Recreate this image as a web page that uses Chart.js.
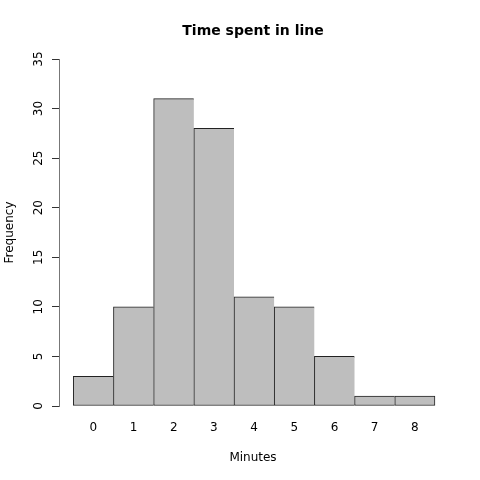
<!DOCTYPE html>
<html>
<head>
<meta charset="utf-8">
<script src="https://cdn.jsdelivr.net/npm/chart.js@4"></script>
<style>
html,body{margin:0;padding:0;background:#fff;}
#wrap{width:480px;height:480px;}
</style>
</head>
<body>
<div id="wrap"><canvas id="c" width="480" height="480"></canvas></div>
<script>
const categories = [0, 1, 2, 3, 4, 5, 6, 7, 8];
const counts = [3, 10, 31, 28, 11, 10, 5, 1, 1];
const yTicks = [0, 5, 10, 15, 20, 25, 30, 35];

const FONT = "'DejaVu Sans', sans-serif";
const last = categories.length - 1;

new Chart(document.getElementById('c'), {
  type: 'bar',
  data: {
    datasets: [{
      data: categories.map((c, i) => ({x: c, y: counts[i]})),
      backgroundColor: '#bebebe',
      borderColor: '#222',
      borderWidth: ctx => ({left: 1, top: 1, bottom: 1, right: ctx.dataIndex === last ? 1 : 0}),
      borderSkipped: false,
      barPercentage: 1,
      categoryPercentage: 1
    }]
  },
  options: {
    responsive: false,
    animation: false,
    layout: {padding: {left: 0, right: 33, top: 0, bottom: 0}},
    plugins: {
      legend: {display: false},
      tooltip: {enabled: false},
      title: {
        display: true,
        fullSize: false,
        text: 'Time spent in line',
        color: '#000',
        font: {family: FONT, size: 14, weight: 'bold'},
        padding: {top: 22.6, bottom: 19.6}
      }
    },
    scales: {
      x: {
        type: 'linear',
        offset: false,
        min: -0.855,
        max: 8.80,
        afterBuildTicks: s => { s.ticks = categories.map(v => ({value: v})); },
        afterFit: s => { s.height = 74; },
        grid: {display: false, drawTicks: false, offset: false},
        border: {display: false},
        ticks: {
          color: '#000',
          padding: 15,
          font: {family: FONT, size: 12},
          maxRotation: 0,
          autoSkip: false
        },
        title: {
          display: true,
          text: 'Minutes',
          color: '#000',
          font: {family: FONT, size: 12},
          padding: {top: 0, bottom: 14.8}
        }
      },
      y: {
        min: 0,
        max: 35,
        afterBuildTicks: s => { s.ticks = yTicks.map(v => ({value: v})); },
        afterFit: s => { s.width = 59; },
        grid: {drawOnChartArea: false, drawTicks: true, tickLength: 7, color: '#333'},
        border: {display: true, color: '#777'},
        ticks: {
          color: '#000',
          padding: 5.4,
          crossAlign: 'center',
          minRotation: 90,
          maxRotation: 90,
          font: {family: FONT, size: 12}
        },
        title: {
          display: true,
          text: 'Frequency',
          color: '#000',
          font: {family: FONT, size: 12},
          padding: {top: 2.8, bottom: 0}
        }
      }
    }
  }
});
</script>
</body>
</html>
